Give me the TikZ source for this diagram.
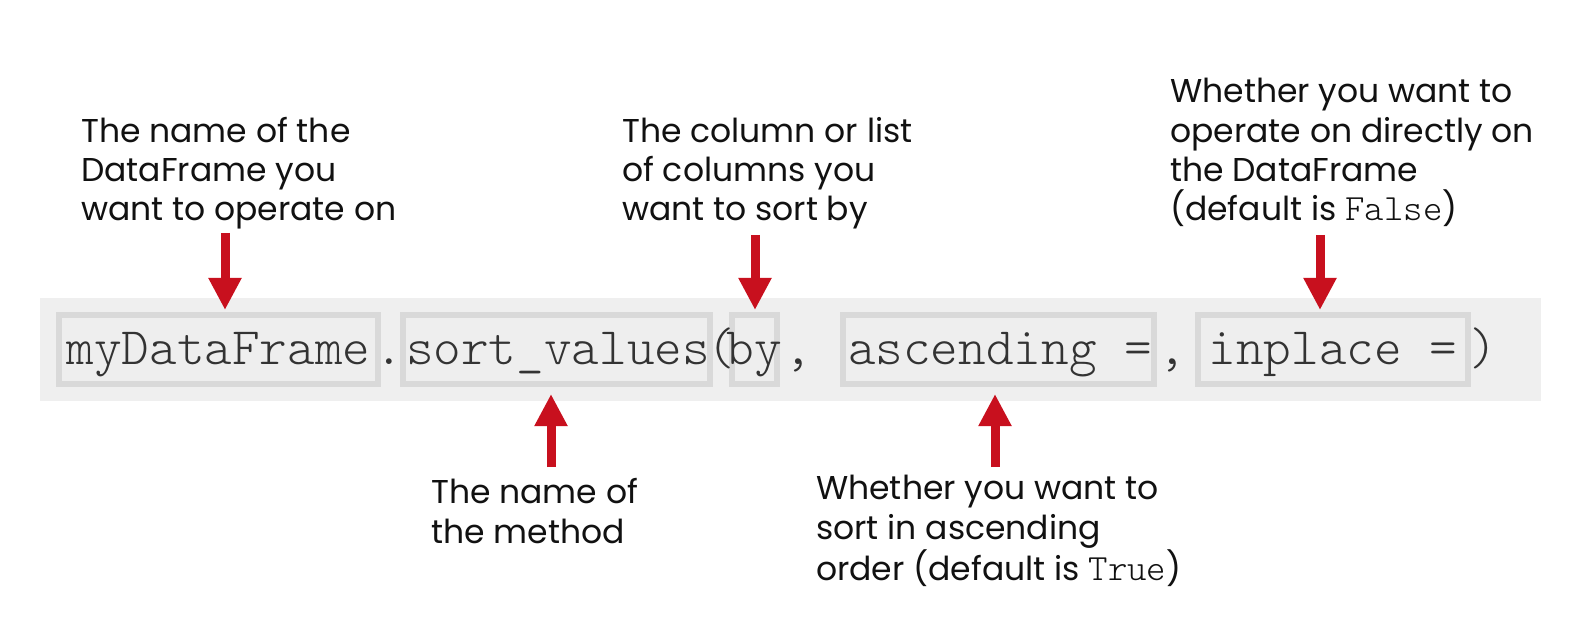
\documentclass[tikz,border=0pt]{standalone}
\usepackage{fontspec}
\setmainfont{Poppins}
\newfontfamily\codefont{Latin Modern Mono Light}
\usetikzlibrary{arrows.meta}
\definecolor{arrowred}{HTML}{C8101E}
\definecolor{bandgray}{HTML}{EFEFEF}
\definecolor{boxline}{HTML}{D9D9D9}
\definecolor{boxfill}{HTML}{EEEEEE}
\definecolor{codetext}{HTML}{333333}
\definecolor{labeltext}{HTML}{111111}
\newcommand{\lblmono}[1]{{\codefont\fontsize{37}{39.4}\selectfont #1}}
\tikzset{
  codebox/.style={draw=boxline, fill=boxfill, line width=6pt, minimum height=69pt, inner sep=0pt, rectangle},
  codetxt/.style={font=\codefont\fontsize{52.6}{52.6}\selectfont, text=codetext, inner sep=0pt, anchor=base},
  lbl/.style={font=\fontsize{33}{39.4}\selectfont, text=labeltext, align=left, inner sep=0pt, anchor=base west},
  redarrow/.style={draw=arrowred, line width=9pt, -{Triangle[width=31pt,length=32pt]}}
}
\begin{document}
\begin{tikzpicture}[x=1pt,y=-1pt]
\useasboundingbox[fill=white] (0,0) rectangle (1584,636);
% band
\fill[bandgray] (40,298) rectangle (1541,401);
% boxes
\node[codebox, minimum width=319pt] (b1) at (218.5,349.5) {};
\node[codebox, minimum width=307pt] (b2) at (556.5,349.5) {};
\node[codebox, minimum width=45pt]  (b3) at (754.5,349.5) {};
\node[codebox, minimum width=311pt] (b4) at (998.5,349.5) {};
\node[codebox, minimum width=270pt] (b5) at (1333,349.5) {};
% code text
\node[codetxt] (t1) at (218.5,364) {myDataFrame};
\node[codetxt] (d1) at (389,364) {.};
\node[codetxt] (t2) at (558,364) {sort\_values};
\node[codetxt] (p1) at (721,364) {(};
\node[codetxt] (t3) at (754.5,364) {by};
\node[codetxt] (c1) at (798,364) {,};
\node[codetxt] (t4) at (1000,364) {ascending =};
\node[codetxt] (c2) at (1172,364) {,};
\node[codetxt] (t5) at (1333,364) {inplace =};
\node[codetxt] (p2) at (1483,364) {)};
% labels (base anchor = baseline of last line)
\node[lbl] (l1) at (81,221) {The name of the\\DataFrame you\\want to operate on};
\node[lbl] (l2) at (622,221) {The column or list\\of columns you\\want to sort by};
\node[lbl] (l3) at (1170,221) {Whether you want to\\operate on directly on\\the DataFrame\\(default is \lblmono{False})};
\node[lbl] (l4) at (431,543) {The name of\\the method};
\node[lbl] (l5) at (816,580) {Whether you want to\\sort in ascending\\order (default is \lblmono{True})};
% arrow coordinates
\coordinate (a1s) at (225,233);  \coordinate (a1e) at (225,310);
\coordinate (a2s) at (551,467);  \coordinate (a2e) at (551,394);
\coordinate (a3s) at (755,235);  \coordinate (a3e) at (755,310);
\coordinate (a4s) at (995,467);  \coordinate (a4e) at (995,394);
\coordinate (a5s) at (1320,235); \coordinate (a5e) at (1320,310);
\draw[redarrow] (a1s) -- (a1e);
\draw[redarrow] (a2s) -- (a2e);
\draw[redarrow] (a3s) -- (a3e);
\draw[redarrow] (a4s) -- (a4e);
\draw[redarrow] (a5s) -- (a5e);
\end{tikzpicture}
\end{document}
